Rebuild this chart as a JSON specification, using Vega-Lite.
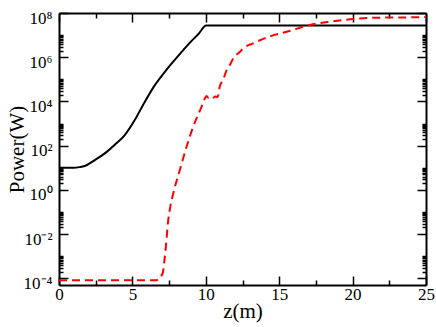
{
  "$schema": "https://vega.github.io/schema/vega-lite/v6.json",
  "width": 367,
  "height": 272,
  "autosize": {"type": "none"},
  "padding": {"left": 59, "top": 13, "right": 10, "bottom": 42},
  "background": "white",
  "config": {
    "view": {"stroke": null},
    "font": "Liberation Serif",
    "axis": {
      "grid": false,
      "domainColor": "black",
      "domainWidth": 2,
      "tickColor": "black",
      "tickWidth": 1.5,
      "labelFont": "Liberation Serif",
      "labelFontSize": 17,
      "labelColor": "black",
      "titleFont": "Liberation Serif",
      "titleFontSize": 21,
      "titleFontWeight": "normal",
      "titleColor": "black",
      "labelOverlap": false,
      "labelBound": false,
      "labelFlush": false
    }
  },
  "data": {
    "values": [
      {"s": "a", "z": 0, "P": 10},
      {"s": "a", "z": 1.0, "P": 10},
      {"s": "a", "z": 1.4, "P": 10.7},
      {"s": "a", "z": 1.75, "P": 12.0},
      {"s": "a", "z": 2.44, "P": 22.4},
      {"s": "a", "z": 3.12, "P": 44.7},
      {"s": "a", "z": 3.8, "P": 110},
      {"s": "a", "z": 4.48, "P": 302},
      {"s": "a", "z": 5.16, "P": 1445},
      {"s": "a", "z": 5.85, "P": 9772},
      {"s": "a", "z": 6.53, "P": 54954},
      {"s": "a", "z": 7.21, "P": 218776},
      {"s": "a", "z": 7.78, "P": 630957},
      {"s": "a", "z": 8.3, "P": 1584893},
      {"s": "a", "z": 8.9, "P": 4466836},
      {"s": "a", "z": 9.5, "P": 11220185},
      {"s": "a", "z": 10.03, "P": 26915348},
      {"s": "a", "z": 25, "P": 26915348},
      {"s": "b", "z": 0, "P": 0.000083},
      {"s": "b", "z": 6.64, "P": 0.000083},
      {"s": "b", "z": 6.85, "P": 0.0001},
      {"s": "b", "z": 7.0, "P": 0.000141},
      {"s": "b", "z": 7.09, "P": 0.0002},
      {"s": "b", "z": 7.18, "P": 0.00063},
      {"s": "b", "z": 7.28, "P": 0.0027},
      {"s": "b", "z": 7.44, "P": 0.0427},
      {"s": "b", "z": 7.6, "P": 0.2},
      {"s": "b", "z": 7.78, "P": 0.69},
      {"s": "b", "z": 8.23, "P": 7.94},
      {"s": "b", "z": 8.69, "P": 89},
      {"s": "b", "z": 9.14, "P": 724},
      {"s": "b", "z": 9.71, "P": 5754},
      {"s": "b", "z": 9.94, "P": 13804},
      {"s": "b", "z": 10.05, "P": 17783},
      {"s": "b", "z": 10.2, "P": 14125},
      {"s": "b", "z": 10.35, "P": 16596},
      {"s": "b", "z": 10.5, "P": 14791},
      {"s": "b", "z": 10.65, "P": 16596},
      {"s": "b", "z": 10.8, "P": 15849},
      {"s": "b", "z": 10.96, "P": 50119},
      {"s": "b", "z": 11.19, "P": 100000},
      {"s": "b", "z": 11.42, "P": 263027},
      {"s": "b", "z": 11.64, "P": 446684},
      {"s": "b", "z": 11.87, "P": 891251},
      {"s": "b", "z": 12.33, "P": 1778279},
      {"s": "b", "z": 12.55, "P": 2511886},
      {"s": "b", "z": 13.23, "P": 4265795},
      {"s": "b", "z": 14.3, "P": 8511380},
      {"s": "b", "z": 15.51, "P": 14125375},
      {"s": "b", "z": 17.1, "P": 28840315},
      {"s": "b", "z": 18.47, "P": 40738028},
      {"s": "b", "z": 20.06, "P": 53703180},
      {"s": "b", "z": 21.88, "P": 61659500},
      {"s": "b", "z": 23.7, "P": 63095734},
      {"s": "b", "z": 25, "P": 66069345}
    ]
  },
  "layer": [
    {
      "transform": [{"filter": "datum.s == 'a'"}],
      "mark": {"type": "line", "color": "black", "strokeWidth": 2, "clip": true, "interpolate": "monotone"},
      "encoding": {
        "x": {
          "field": "z", "type": "quantitative",
          "scale": {"domain": [0, 25], "nice": false, "zero": false},
          "axis": {
            "orient": "bottom",
            "title": "z(m)",
            "titlePadding": -2,
            "values": [0, 5, 10, 15, 20, 25],
            "tickSize": -9,
            "labelPadding": 10
          }
        },
        "y": {
          "field": "P", "type": "quantitative",
          "scale": {"type": "log", "domain": [0.00005, 100000000], "nice": false},
          "axis": {
            "orient": "left",
            "title": "Power(W)",
            "titlePadding": -4,
            "values": [0.0001, 0.01, 1, 100, 10000, 1000000, 100000000],
            "labelExpr": "datum.value == 0.0001 ? '10⁻⁴' : datum.value == 0.01 ? '10⁻²' : datum.value == 1 ? '10⁰' : datum.value == 100 ? '10²' : datum.value == 10000 ? '10⁴' : datum.value == 1000000 ? '10⁶' : '10⁸'",
            "tickSize": -9,
            "labelPadding": 16,
            "labelOffset": 5
          }
        }
      }
    },
    {
      "transform": [{"filter": "datum.s == 'b'"}],
      "mark": {"type": "line", "color": "#ff0000", "strokeWidth": 2, "strokeDash": [8, 5], "clip": true, "interpolate": "monotone"},
      "encoding": {
        "x": {
          "field": "z", "type": "quantitative",
          "scale": {"domain": [0, 25], "nice": false, "zero": false},
          "axis": {
            "orient": "top",
            "title": null,
            "labels": false,
            "values": [0, 5, 10, 15, 20, 25],
            "tickSize": -9
          }
        },
        "y": {
          "field": "P", "type": "quantitative",
          "scale": {"type": "log", "domain": [0.00005, 100000000], "nice": false},
          "axis": {
            "orient": "right",
            "title": null,
            "labels": false,
            "values": [0.0001, 0.01, 1, 100, 10000, 1000000, 100000000],
            "tickSize": -9
          }
        }
      }
    },
    {
      "transform": [{"filter": "datum.s == 'a'"}],
      "mark": {"type": "line", "color": "black", "strokeOpacity": 0},
      "encoding": {
        "x": {
          "field": "z", "type": "quantitative",
          "scale": {"domain": [0, 25], "nice": false, "zero": false},
          "axis": {
            "orient": "bottom",
            "title": null,
            "labels": false,
            "domain": false,
            "values": [2.5, 7.5, 12.5, 17.5, 22.5],
            "tickSize": -5
          }
        },
        "y": {
          "field": "P", "type": "quantitative",
          "scale": {"type": "log", "domain": [0.00005, 100000000], "nice": false},
          "axis": {
            "orient": "left",
            "title": null,
            "labels": false,
            "domain": false,
            "values": [0.0002, 0.0003, 0.0004, 0.0005, 0.0006, 0.0007, 0.0008, 0.0009, 0.001, 0.02, 0.03, 0.04, 0.05, 0.06, 0.07, 0.08, 0.09, 0.1, 2, 3, 4, 5, 6, 7, 8, 9, 10, 200, 300, 400, 500, 600, 700, 800, 900, 1000, 20000, 30000, 40000, 50000, 60000, 70000, 80000, 90000, 100000, 2000000, 3000000, 4000000, 5000000, 6000000, 7000000, 8000000, 9000000, 10000000],
            "tickSize": -4
          }
        }
      }
    },
    {
      "transform": [{"filter": "datum.s == 'a'"}],
      "mark": {"type": "line", "color": "black", "strokeOpacity": 0},
      "encoding": {
        "x": {
          "field": "z", "type": "quantitative",
          "scale": {"domain": [0, 25], "nice": false, "zero": false},
          "axis": {
            "orient": "top",
            "title": null,
            "labels": false,
            "domain": false,
            "values": [2.5, 7.5, 12.5, 17.5, 22.5],
            "tickSize": -5
          }
        },
        "y": {
          "field": "P", "type": "quantitative",
          "scale": {"type": "log", "domain": [0.00005, 100000000], "nice": false},
          "axis": {
            "orient": "right",
            "title": null,
            "labels": false,
            "domain": false,
            "values": [0.0002, 0.0003, 0.0004, 0.0005, 0.0006, 0.0007, 0.0008, 0.0009, 0.001, 0.02, 0.03, 0.04, 0.05, 0.06, 0.07, 0.08, 0.09, 0.1, 2, 3, 4, 5, 6, 7, 8, 9, 10, 200, 300, 400, 500, 600, 700, 800, 900, 1000, 20000, 30000, 40000, 50000, 60000, 70000, 80000, 90000, 100000, 2000000, 3000000, 4000000, 5000000, 6000000, 7000000, 8000000, 9000000, 10000000],
            "tickSize": -4
          }
        }
      }
    }
  ],
  "resolve": {"axis": {"x": "independent", "y": "independent"}}
}
